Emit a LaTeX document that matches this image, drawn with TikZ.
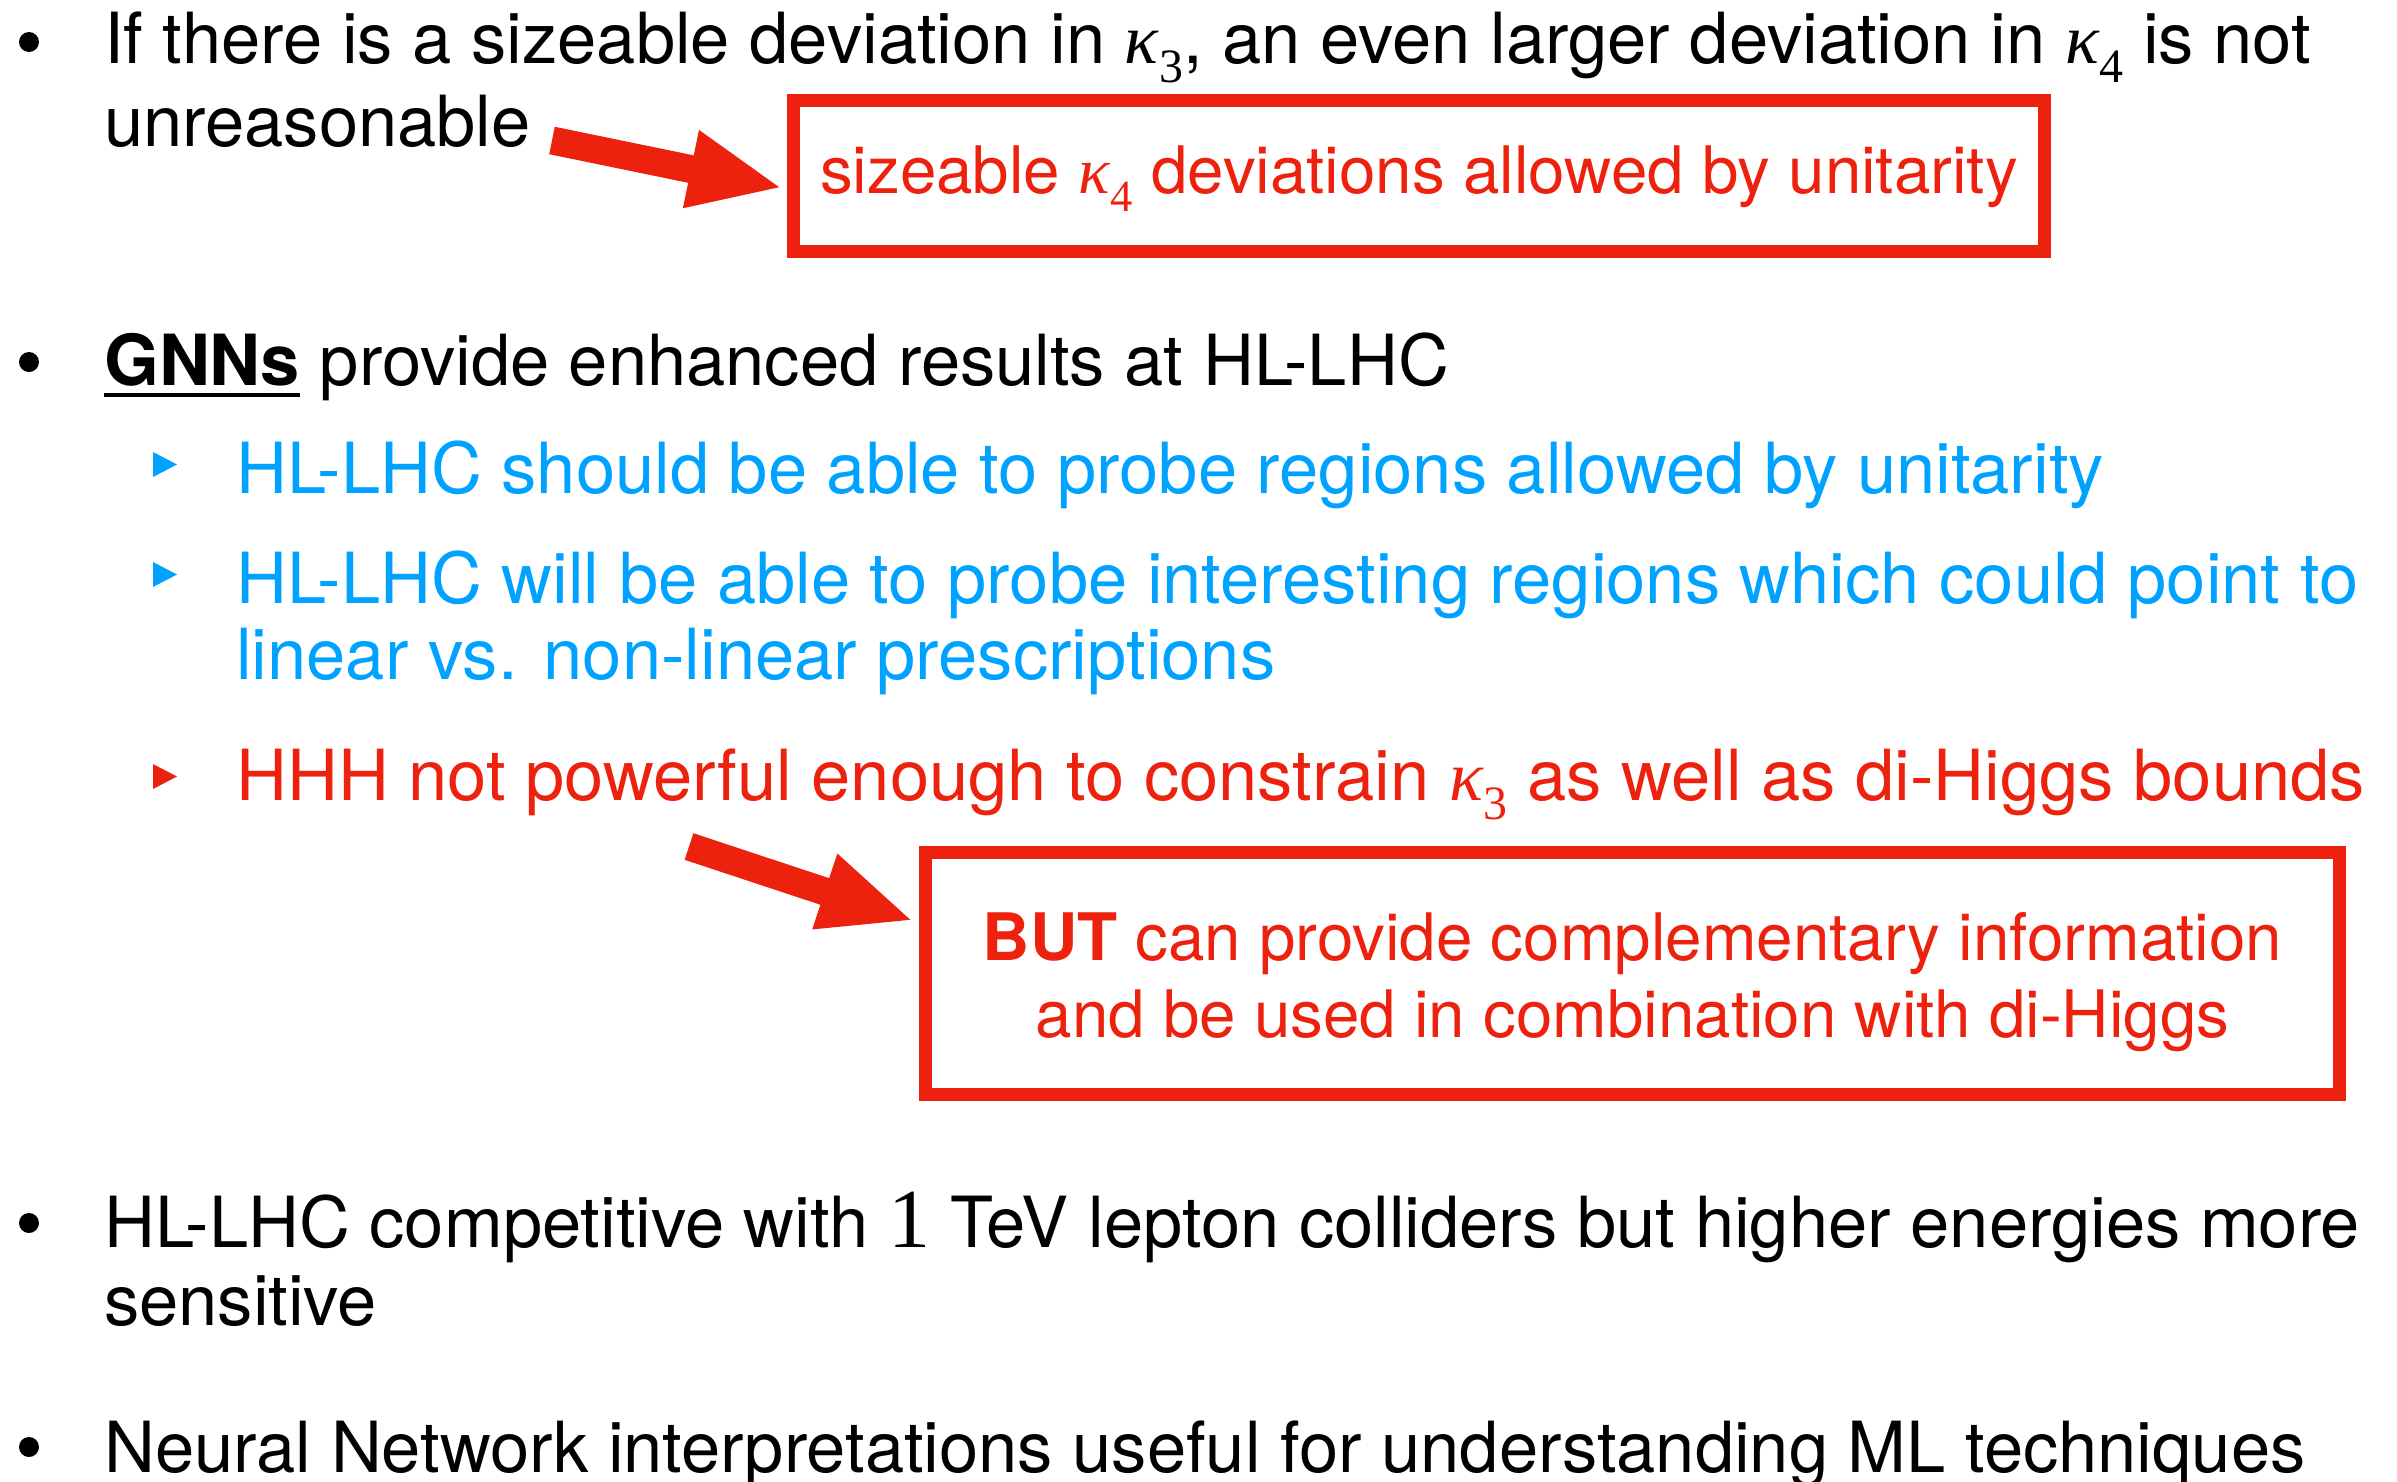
\documentclass[tikz,border=0pt]{standalone}
\usepackage{graphicx}
\usepackage{fontspec}
\setmainfont{TeX Gyre Heros}
\newfontfamily\serifsym{Liberation Serif}
\usetikzlibrary{arrows.meta,calc}
\definecolor{slred}{RGB}{237,34,14}
\definecolor{slblue}{RGB}{0,162,255}
\newcommand\mainsize{\fontsize{70.5}{84}\selectfont}
\newcommand\boxsize{\fontsize{65.5}{78}\selectfont}
% italic serif kappa with a lowered upright index
\newcommand\kap[1]{{\serifsym\itshape κ}\kern0.01em\raisebox{-0.28em}{\serifsym\scalebox{0.68}{#1}}}
\tikzset{
  txt/.style={anchor=base west, inner sep=0pt, font=\mainsize},
  boxtxt/.style={anchor=base, inner sep=0pt, font=\boxsize, text=slred},
  dotbullet/.style={circle, fill=black, inner sep=0pt, minimum size=20pt},
  bigbox/.style={draw=slred, line width=13pt, inner sep=0pt},
  redarrow/.style={draw=slred, line width=28pt, line cap=butt,
    -{Triangle[length=94pt,width=72pt,fill=slred]}},
}
\begin{document}
\begin{tikzpicture}[x=1pt,y=-1pt]
\useasboundingbox (0,0) rectangle (2397,1481);

% first bullet
\node[dotbullet] (d1) at (29,42) {};
\node[txt] (l1) at (104,63) {If there is a sizeable deviation in \kap{3}, an even larger deviation in \kap{4} is not};
\node[txt] (l1b) at (104,146) {unreasonable};

\node[bigbox, minimum width=1251pt, minimum height=151pt] (b1) at (1419,176) {};
\node[boxtxt] (b1t) at ([yshift=-17pt]b1.center) {sizeable \kap{4} deviations allowed by unitarity};
\coordinate (a1tail) at (552,140.5);
\draw[redarrow] (a1tail) -- ([xshift=-4pt,yshift=-12pt]b1.west);

% second bullet
\node[dotbullet] (d2) at (29,362) {};
\node[txt] (gnn) at (104,385) {\textbf{GNNs}};
\draw[line width=4pt] ([yshift=-10pt]gnn.base west) -- ([yshift=-10pt]gnn.base east);
\node[txt] (gnnrest) at ([xshift=19.5pt]gnn.base east) {provide enhanced results at HL-LHC};

% sub bullets
\fill[slblue] (153,452) -- (153,477) -- (177,464.5) -- cycle;
\node[txt, text=slblue] (s1) at (236,493) {HL-LHC should be able to probe regions allowed by unitarity};
\fill[slblue] (153,562) -- (153,587) -- (177,574.5) -- cycle;
\node[txt, text=slblue] (s2) at (236,603) {HL-LHC will be able to probe interesting regions which could point to};
\node[txt, text=slblue] (s2b) at (236,679) {linear vs. non-linear prescriptions};
\fill[slred] (153,764) -- (153,789) -- (177,776.5) -- cycle;
\node[txt, text=slred] (s3) at (236,800) {HHH not powerful enough to constrain \kap{3} as well as di-Higgs bounds};

\node[bigbox, minimum width=1414pt, minimum height=242pt] (b2) at (1632.5,973.5) {};
\node[boxtxt] (b2t1) at ([yshift=13.5pt]b2.center) {\textbf{BUT} can provide complementary information};
\node[boxtxt] (b2t2) at ([yshift=-63.5pt]b2.center) {and be used in combination with di-Higgs};
\coordinate (a2tail) at (689,846.5);
\draw[redarrow] (a2tail) -- ([xshift=-5pt,yshift=52.5pt]b2.west);

% third bullet
\node[dotbullet] (d3) at (29,1223) {};
\node[txt] (l3) at (104,1247) {HL-LHC competitive with {\serifsym\fontsize{84}{84}\selectfont 1} TeV lepton colliders but higher energies more};
\node[txt] (l3b) at (104,1325) {sensitive};

% fourth bullet
\node[dotbullet] (d4) at (29,1447) {};
\node[txt] (l4) at (104,1472) {Neural Network interpretations useful for understanding ML techniques};
\end{tikzpicture}
\end{document}
